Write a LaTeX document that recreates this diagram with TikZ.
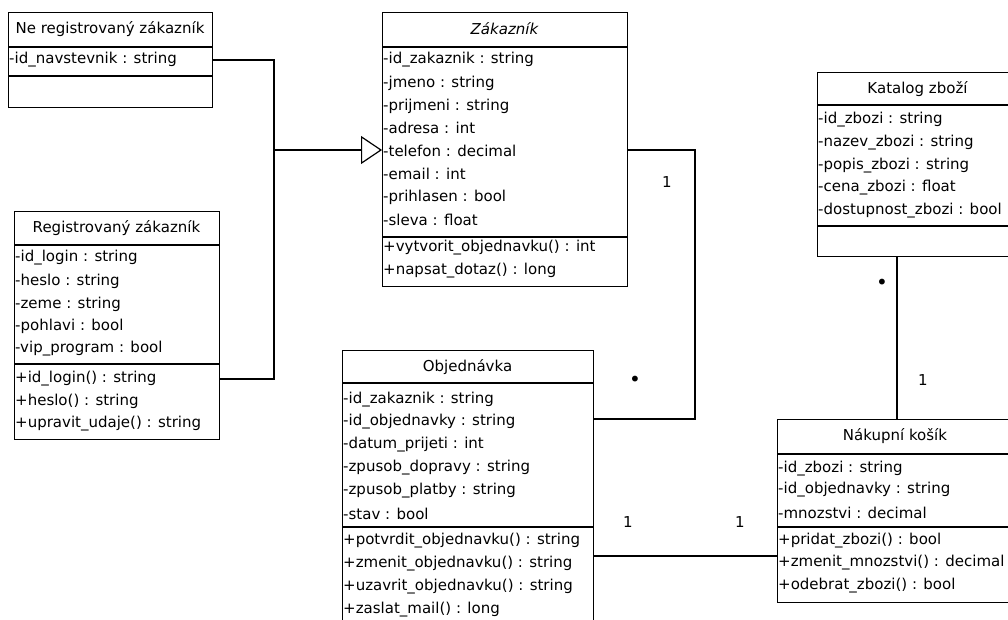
\documentclass[tikz,border=0pt]{standalone}
\usepackage{fontspec}
\setmainfont{DejaVu Sans}
\usetikzlibrary{arrows.meta}
\begin{document}
\begin{tikzpicture}[x=1pt,y=-1pt,
  clsbox/.style={draw, line width=1.2pt, anchor=north west, inner sep=0pt},
  sepline/.style={line width=1.2pt},
  row/.style={anchor=west, inner sep=0pt, font=\fontsize{15}{17}\selectfont},
  ttl/.style={inner sep=0pt, font=\fontsize{15}{17}\selectfont},
  conn/.style={line width=1.2pt},
  mult/.style={inner sep=0pt, font=\fontsize{15}{17}\selectfont},
  dotlbl/.style={inner sep=0pt, font=\fontsize{20}{22}\selectfont}]
\useasboundingbox (0,0) rectangle (1008,620);
\clip (0,0) rectangle (1008,620);
\fill[white] (0,0) rectangle (1008,620);

% Neregistrovany zakaznik
\node[clsbox, minimum width=204pt, minimum height=95pt] (nr) at (8,12) {};
\draw[sepline] ([yshift=-35pt]nr.north west) -- ([yshift=-35pt]nr.north east);
\draw[sepline] ([yshift=-64pt]nr.north west) -- ([yshift=-64pt]nr.north east);
\node[ttl] (nrt) at (110,29) {Ne registrovaný zákazník};
\node[row] (nra1) at (9,60) {-id\_navstevnik : string};

% Zakaznik
\node[clsbox, minimum width=245pt, minimum height=274pt] (zak) at (382,12) {};
\draw[sepline] ([yshift=-35pt]zak.north west) -- ([yshift=-35pt]zak.north east);
\draw[sepline] ([yshift=-225pt]zak.north west) -- ([yshift=-225pt]zak.north east);
\node[ttl, font=\fontsize{15}{17}\selectfont\itshape] (zakt) at (504.5,29) {Zákazník};
\node[row] (zaka1) at (383,60) {-id\_zakaznik : string};
\node[row] (zaka2) at (383,83) {-jmeno : string};
\node[row] (zaka3) at (383,106) {-prijmeni : string};
\node[row] (zaka4) at (383,128) {-adresa : int};
\node[row] (zaka5) at (383,151) {-telefon : decimal};
\node[row] (zaka6) at (383,174) {-email : int};
\node[row] (zaka7) at (383,197) {-prihlasen : bool};
\node[row] (zaka8) at (383,220) {-sleva : float};
\node[row] (zakm1) at (383,248) {+vytvorit\_objednavku() : int};
\node[row] (zakm2) at (383,271) {+napsat\_dotaz() : long};

% Registrovany zakaznik
\node[clsbox, minimum width=205pt, minimum height=228pt] (reg) at (14,211) {};
\draw[sepline] ([yshift=-34pt]reg.north west) -- ([yshift=-34pt]reg.north east);
\draw[sepline] ([yshift=-153pt]reg.north west) -- ([yshift=-153pt]reg.north east);
\node[ttl] (regt) at (116.5,228) {Registrovaný zákazník};
\node[row] (rega1) at (15,258) {-id\_login : string};
\node[row] (rega2) at (15,281) {-heslo : string};
\node[row] (rega3) at (15,304) {-zeme : string};
\node[row] (rega4) at (15,326) {-pohlavi : bool};
\node[row] (rega5) at (15,349) {-vip\_program : bool};
\node[row] (regm1) at (15,379) {+id\_login() : string};
\node[row] (regm2) at (15,401) {+heslo() : string};
\node[row] (regm3) at (15,424) {+upravit\_udaje() : string};

% Katalog zbozi
\node[clsbox, minimum width=201pt, minimum height=184pt] (kat) at (817,72) {};
\draw[sepline] ([yshift=-33pt]kat.north west) -- ([yshift=-33pt]kat.north east);
\draw[sepline] ([yshift=-154pt]kat.north west) -- ([yshift=-154pt]kat.north east);
\node[ttl] (katt) at (917.5,89) {Katalog zboží};
\node[row] (kata1) at (818,120) {-id\_zbozi : string};
\node[row] (kata2) at (818,143) {-nazev\_zbozi : string};
\node[row] (kata3) at (818,166) {-popis\_zbozi : string};
\node[row] (kata4) at (818,188) {-cena\_zbozi : float};
\node[row] (kata5) at (818,211) {-dostupnost\_zbozi : bool};

% Objednavka
\node[clsbox, minimum width=251pt, minimum height=290pt] (obj) at (342,350) {};
\draw[sepline] ([yshift=-33pt]obj.north west) -- ([yshift=-33pt]obj.north east);
\draw[sepline] ([yshift=-177pt]obj.north west) -- ([yshift=-177pt]obj.north east);
\node[ttl] (objt) at (467.5,367) {Objednávka};
\node[row] (obja1) at (343,400) {-id\_zakaznik : string};
\node[row] (obja2) at (343,422) {-id\_objednavky : string};
\node[row] (obja3) at (343,445) {-datum\_prijeti : int};
\node[row] (obja4) at (343,468) {-zpusob\_dopravy : string};
\node[row] (obja5) at (343,491) {-zpusob\_platby : string};
\node[row] (obja6) at (343,514) {-stav : bool};
\node[row] (objm1) at (343,541) {+potvrdit\_objednavku() : string};
\node[row] (objm2) at (343,564) {+zmenit\_objednavku() : string};
\node[row] (objm3) at (343,587) {+uzavrit\_objednavku() : string};
\node[row] (objm4) at (343,610) {+zaslat\_mail() : long};

% Nakupni kosik
\node[clsbox, minimum width=236pt, minimum height=183pt] (nak) at (777,419) {};
\draw[sepline] ([yshift=-35pt]nak.north west) -- ([yshift=-35pt]nak.north east);
\draw[sepline] ([yshift=-108pt]nak.north west) -- ([yshift=-108pt]nak.north east);
\node[ttl] (nakt) at (895,436) {Nákupní košík};
\node[row] (naka1) at (778,469) {-id\_zbozi : string};
\node[row] (naka2) at (778,490) {-id\_objednavky : string};
\node[row] (naka3) at (778,513) {-mnozstvi : decimal};
\node[row] (nakm1) at (778,541) {+pridat\_zbozi() : bool};
\node[row] (nakm2) at (778,563) {+zmenit\_mnozstvi() : decimal};
\node[row] (nakm3) at (778,586) {+odebrat\_zbozi() : bool};

% Generalisation
\coordinate (gj) at (274,150);
\draw[conn] (nr.east |- nra1) -| (gj);
\draw[conn] (reg.east |- regm1) -| (gj);
\draw[conn, -{Triangle[open, length=21pt, width=28pt, line width=1.2pt]}] (gj) -- (zak.west |- gj);

% Zakaznik - Objednavka
\coordinate (zo) at (695,150);
\draw[conn] (zak.east |- zo) -- (zo) |- ([yshift=-69pt]obj.north east);
\node[mult] (zo1) at (667,182) {1};
\node[dotlbl] (zo2) at (635,381) {•};

% Katalog - Nakupni kosik
\draw[conn] (kat.south -| 897,0) -- (nak.north -| 897,0);
\node[dotlbl] (kn1) at (882,284) {•};
\node[mult] (kn2) at (923,380) {1};

% Objednavka - Nakupni kosik
\coordinate (on) at (593,556);
\draw[conn] (obj.east |- on) -- (nak.west |- on);
\node[mult] (on1) at (628,522) {1};
\node[mult] (on2) at (740,522) {1};
\end{tikzpicture}
\end{document}
